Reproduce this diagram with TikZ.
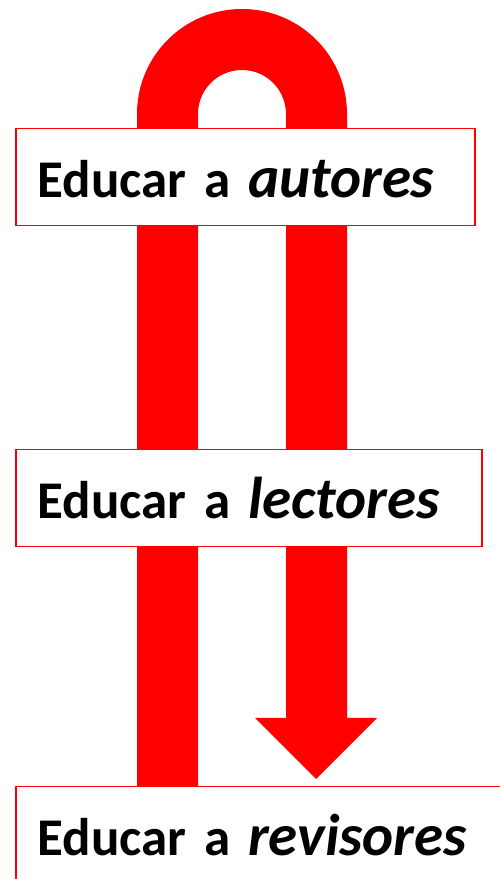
\documentclass[tikz,border=0pt]{standalone}
\usepackage{fontspec}
\setmainfont{Carlito}
\newfontface\cardbf{Carlito-Bold.ttf}[WordSpace=0.55]
\newfontface\cardit{Carlito-BoldItalic.ttf}

\begin{document}
\begin{tikzpicture}[
	x=1pt, y=1pt,
  every node/.style = {font=\fontsize{53}{60}\cardbf},
  band/.style = {fill=red},
  card/.style = {draw=red, line width=1.5pt, fill=white, anchor=north west, align=left,
    inner xsep=22pt, inner ysep=0pt, text height=69pt, text depth=28pt}
  ]
	\clip (0,0) rectangle (500,879);

	\coordinate (@1) at (137,0);
	\coordinate (@2) at (137,765);
	\coordinate (@3) at (286,161);
	\coordinate (@4) at (316,100);

	\fill[band] (@1) -- (@2) arc[start angle=180, end angle=0, radius=105pt]
		-- (347,161) -- (377,161) -- (@4) -- (255,161) -- (@3)
		-- (286,765) arc[start angle=0, end angle=180, radius=44pt] -- (198,0) -- cycle;

	\node[card, text width=415pt] (autores) at (15,751) {Educar a {\fontsize{59}{60}\cardit autores}};
	\node[card, text width=422pt] (lectores) at (15,430) {Educar a {\fontsize{59}{60}\cardit lectores}};
	\node[card, text width=500pt] (revisores) at (15,93) {Educar a {\fontsize{59}{60}\cardit revisores}};

\end{tikzpicture}
\end{document}
